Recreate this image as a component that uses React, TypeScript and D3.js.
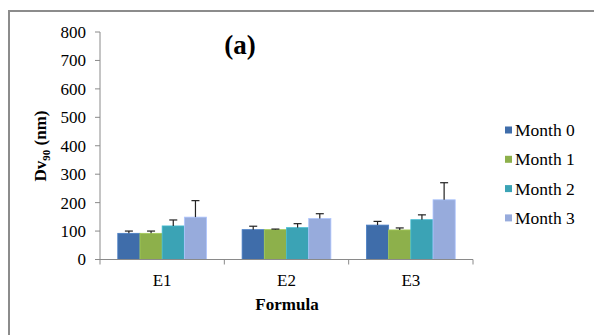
import React from "react";
import * as d3 from "d3";

const categories = ["E1", "E2", "E3"];
const seriesNames = ["Month 0", "Month 1", "Month 2", "Month 3"];
const values = [
  [92, 105, 121],
  [92, 105, 104],
  [118, 112, 140],
  [149, 144, 210],
];
const errors = [
  [8, 12, 13],
  [8, 2, 7],
  [21, 14, 17],
  [58, 17, 60],
];
const yTicks = [0, 100, 200, 300, 400, 500, 600, 700, 800];
const colors = ["#3F6DAA", "#8DB04B", "#3BA3B5", "#97ABDC"];

const W = 594, H = 335;
const left = 100, right = 473, top = 32, bottom = 259.5;
const font = "Liberation Serif, Tinos, Times New Roman, DejaVu Serif, serif";

export default function App() {
  const y = d3.scaleLinear().domain([0, 800]).range([bottom, top]);
  const x0 = d3.scaleBand().domain(categories).range([left, right]).paddingInner(0).paddingOuter(0);
  const groupPad = 0.143;
  const x1 = d3
    .scaleBand()
    .domain(seriesNames)
    .range([x0.bandwidth() * groupPad, x0.bandwidth() * (1 - groupPad)])
    .padding(0);
  const axisColor = "#8a8a8a";
  const bounds = [left, ...categories.map((c) => (x0(c) as number) + x0.bandwidth())];
  const ts = { fontFamily: font };

  return (
    <svg width={W} height={H} style={{ position: "absolute", left: 0, top: 0, background: "#fff", fontFamily: font }}>
      <rect x={0} y={0} width={W} height={H} fill="#fff" />
      <path d={`M9,${H + 5}V11H${W + 5}`} fill="none" stroke="#8c8c8c" strokeWidth={2} />
      {/* y axis */}
      <line x1={left} x2={left} y1={top} y2={bottom} stroke={axisColor} strokeWidth={1} />
      {yTicks.map((t) => (
        <g key={t}>
          <line x1={left - 5} x2={left} y1={y(t)} y2={y(t)} stroke={axisColor} />
          <text x={86} y={y(t)} dy="0.35em" textAnchor="end" style={ts} fontSize={17} fill="#000">
            {t}
          </text>
        </g>
      ))}
      {/* bars */}
      {seriesNames.map((s, si) =>
        categories.map((c, ci) => {
          const bx = (x0(c) as number) + (x1(s) as number);
          const bw = x1.bandwidth();
          const v = values[si][ci];
          const e = errors[si][ci];
          const cx = bx + bw / 2;
          return (
            <g key={s + c}>
              <rect x={bx} y={y(v)} width={bw} height={bottom - y(v)} fill={colors[si]} stroke={d3.color(colors[si])!.brighter(0.4).toString()} strokeWidth={0.8} />
              <line x1={cx} x2={cx} y1={y(v)} y2={y(v + e)} stroke="#222" strokeWidth={1.2} />
              <line x1={cx - 4} x2={cx + 4} y1={y(v + e)} y2={y(v + e)} stroke="#222" strokeWidth={1.2} />
            </g>
          );
        })
      )}
      {/* x axis */}
      <line x1={left} x2={right} y1={bottom} y2={bottom} stroke={axisColor} strokeWidth={1.2} />
      {bounds.map((b, i) => (
        <line key={i} x1={b} x2={b} y1={bottom} y2={bottom + 5} stroke={axisColor} />
      ))}
      {categories.map((c) => (
        <text key={c} x={(x0(c) as number) + x0.bandwidth() / 2} y={286} textAnchor="middle" style={ts} fontSize={17} fill="#000">
          {c}
        </text>
      ))}
      <text x={287} y={310} textAnchor="middle" style={ts} fontSize={17} fontWeight="bold" fill="#000">
        Formula
      </text>
      <text transform={`translate(46,146) rotate(-90)`} textAnchor="middle" style={ts} fontSize={17} fontWeight="bold" fill="#000">
        Dv<tspan fontSize={11} dy={4}>90</tspan>
        <tspan dy={-4}> (nm)</tspan>
      </text>
      <text x={240} y={54} textAnchor="middle" style={ts} fontSize={27} fontWeight="bold" fill="#000">
        (a)
      </text>
      {/* legend */}
      {seriesNames.map((s, i) => (
        <g key={s} transform={`translate(0,${130 + i * 29.3})`}>
          <rect x={505} y={-3.5} width={7} height={7} fill={colors[i]} />
          <text x={515} y={0} dy="0.35em" style={ts} fontSize={17.5} fill="#000">
            {s}
          </text>
        </g>
      ))}
    </svg>
  );
}
